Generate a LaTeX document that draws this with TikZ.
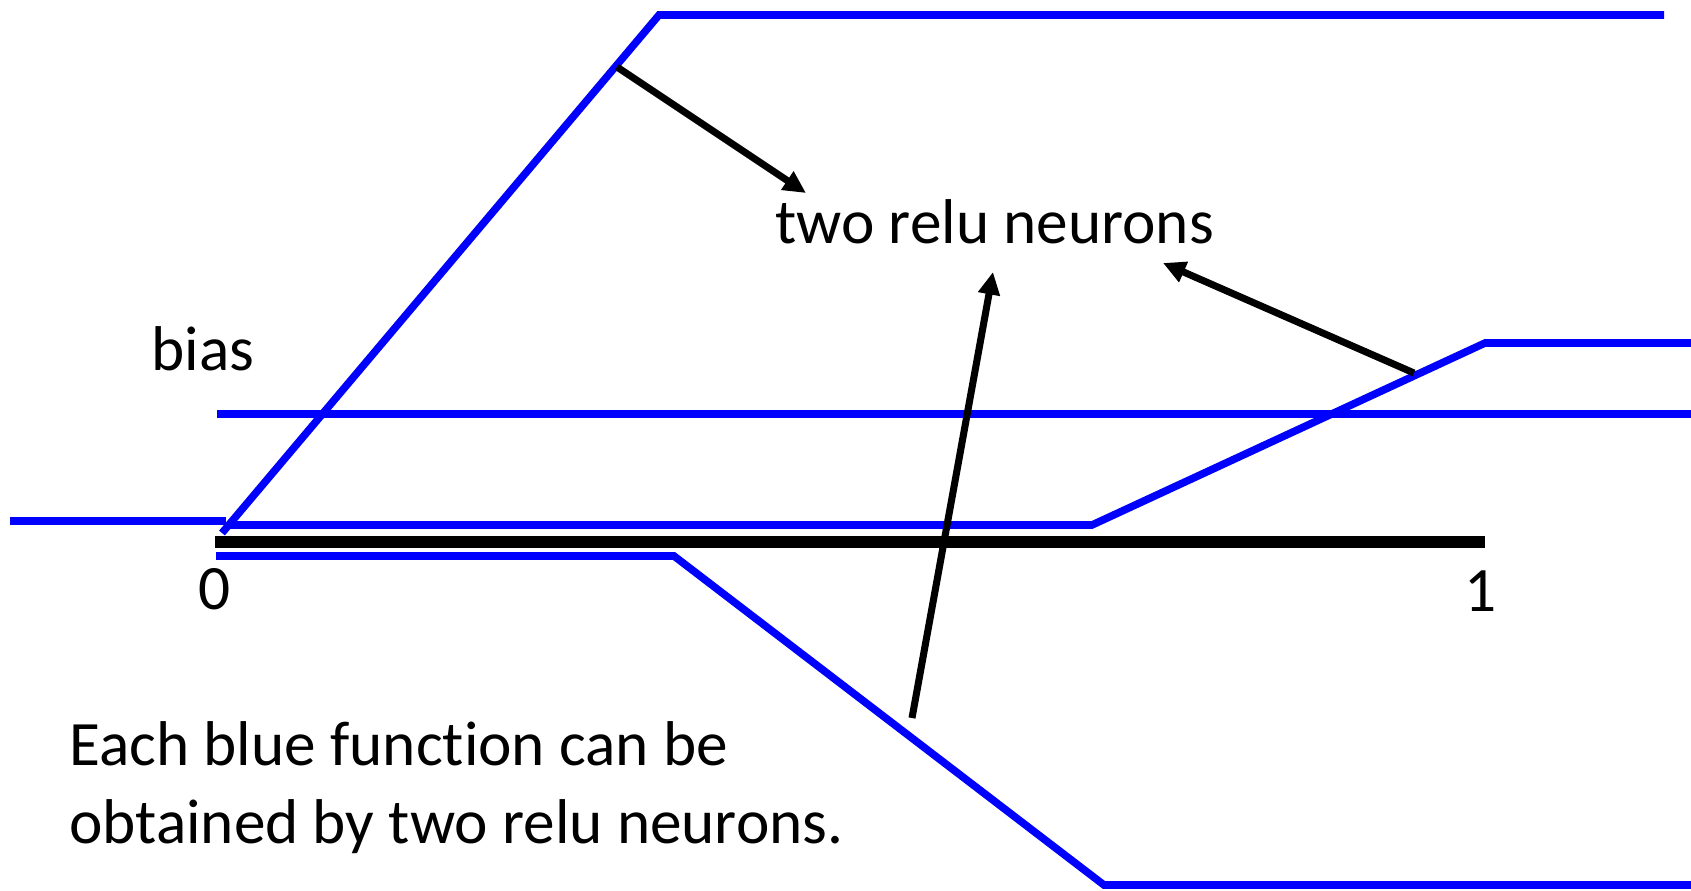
\documentclass[tikz,border=0pt]{standalone}
\usepackage{fontspec}
\setmainfont{Carlito}[Ligatures=NoCommon]
\usetikzlibrary{arrows.meta}

\begin{document}
\begin{tikzpicture}[x=0.02cm,y=-0.02cm,
  fn/.style={draw=blue,line width=4.3pt,line join=miter},
  axisline/.style={draw=black,line width=6.8pt},
  ptr/.style={-{Triangle[length=0.45cm,width=0.42cm]},line width=4pt},
  lbl/.style={inner sep=0pt,font=\fontsize{36}{44}\selectfont}
]
  \useasboundingbox (0,0) rectangle (1691,890);
  \draw[fn] (10,521) -- (226,521);
  \draw[fn] (222,533) -- (659,15) -- (1664,15);
  \draw[fn] (217,414) -- (1691,414);
  \draw[fn] (227,525) -- (1092,525) -- (1485,343) -- (1691,343);
  \draw[fn] (216,556) -- (674,556) -- (1104,885) -- (1691,885);
  \draw[axisline] (215,542) -- (1485,542);

  \node[lbl,anchor=base west] (pair) at (775,243) {two relu neurons};
  \node[lbl,anchor=base west] (bias) at (151,370) {bias};
  \node[lbl,anchor=base] (zero) at (215,609) {0};
  \node[lbl,anchor=base] (one)  at (1481,611) {1};
  \node[lbl,anchor=base west,align=left] (note) at (69,843)
    {Each blue function can be\\obtained by two relu neurons.};

  \coordinate (tailA) at (617,67);   \coordinate (headA) at (806,193);
  \coordinate (tailB) at (1414,373); \coordinate (headB) at (1163,263);
  \coordinate (tailC) at (912,718);  \coordinate (headC) at (993,272);
  \draw[ptr] (tailA) -- (headA);
  \draw[ptr] (tailB) -- (headB);
  \draw[ptr] (tailC) -- (headC);
\end{tikzpicture}
\end{document}
